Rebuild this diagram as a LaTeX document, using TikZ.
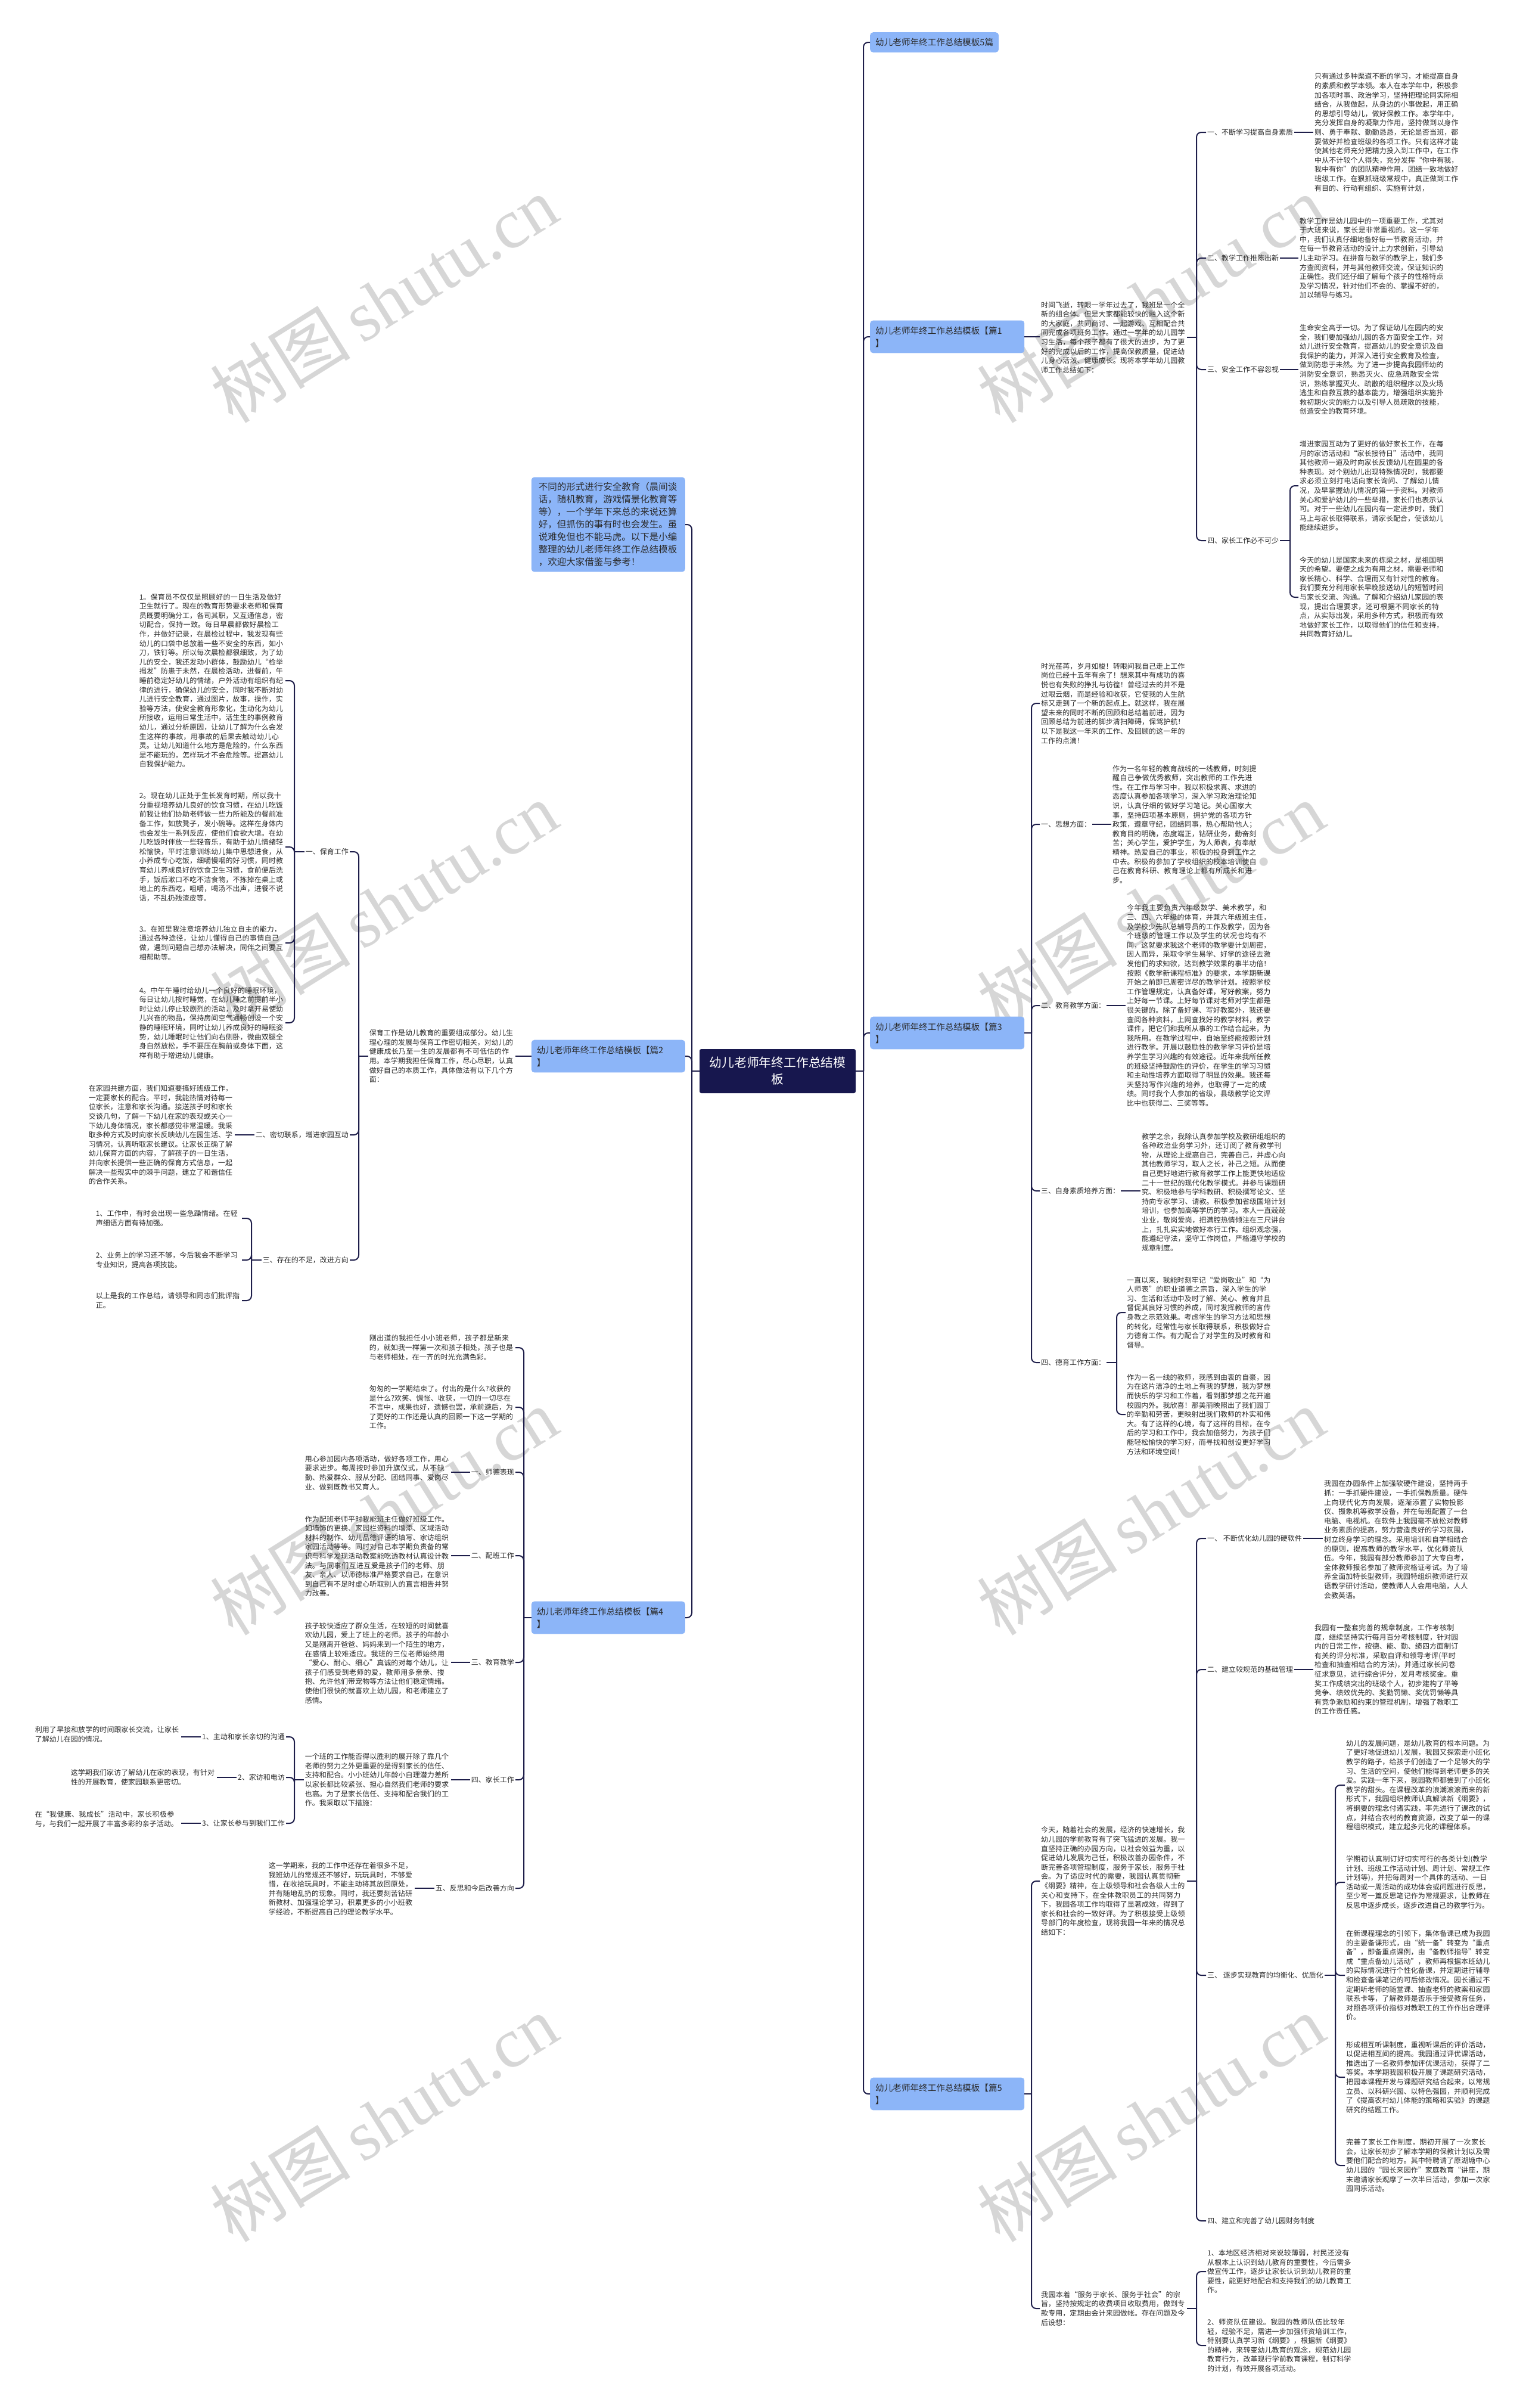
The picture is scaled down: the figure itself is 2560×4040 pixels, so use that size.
\documentclass[tikz,border=0pt]{standalone}
\usepackage{fontspec}
\setmainfont{Noto Sans CJK SC}
\newfontfamily\wmserif{Liberation Serif}
\XeTeXlinebreaklocale "zh"
\XeTeXlinebreakskip=0pt plus 1pt
\definecolor{boxblue}{HTML}{8CB5F8}
\definecolor{navy}{HTML}{17174E}
\definecolor{linec}{HTML}{1E1E4A}
\definecolor{txt}{HTML}{2A2A2A}
\definecolor{wm}{HTML}{D6D6D6}
\tikzset{
 conn/.style={draw=linec, line width=2pt},
 leaf/.style={text width=243pt, align=left, inner sep=2pt, text=txt, font=\fontsize{12}{15.6}\selectfont},
 lab/.style={inner sep=2pt, text=txt, font=\fontsize{12}{15.6}\selectfont},
 brbox/.style={fill=boxblue, rounded corners=5pt, inner xsep=9pt, inner ysep=10pt, text=txt, font=\fontsize{14.6}{21}\selectfont, align=left},
 wmark/.style={text=wm, rotate=32, font=\fontsize{118}{118}\selectfont}
}
\newcommand\lkR[3]{\draw[conn] (#1.east) -- (#1.east -| #3);\draw[conn,rounded corners=8pt] (#1.east -| #3) |- (#2.west);}
\newcommand\lkL[3]{\draw[conn] (#1.west) -- (#1.west -| #3);\draw[conn,rounded corners=8pt] (#1.west -| #3) |- (#2.east);}
\newcommand\lkSR[2]{\draw[conn] (#1.east) -- (#1.east -| #2.west);}
\newcommand\lkSL[2]{\draw[conn] (#1.west) -- (#1.west -| #2.east);}
\begin{document}
\begin{tikzpicture}[x=1pt,y=-1pt]
\useasboundingbox[fill=white] (0,0) rectangle (2560,4040);
% watermarks
\foreach \wx in {644,1931}{
 \foreach \wy in {502,1519,2536,3554}{
  \node[wmark] at (\wx,\wy) {树图\,{\wmserif shutu.cn}};
 }
}
% bar coordinates
\coordinate (bR) at (1449,0);
\coordinate (bL) at (1161,0);
\coordinate (b1) at (2008,0);
\coordinate (b1d) at (2165,0);
\coordinate (b3) at (1731,0);
\coordinate (b3d) at (1874,0);
\coordinate (b5) at (1731,0);
\coordinate (b5i) at (2008,0);
\coordinate (b5c) at (2241,0);
\coordinate (b2) at (602,0);
\coordinate (b2a) at (494,0);
\coordinate (b2c) at (422,0);
\coordinate (b4) at (879,0);
\coordinate (b4d) at (494,0);

% central
\node[fill=navy, text=white, rounded corners=3pt, minimum width=262pt, minimum height=74pt, align=center, font=\fontsize{20.8}{28}\selectfont] (C) at (1305,1797) {幼儿老师年终工作总结模\\板};

% ===== right side =====
\node[brbox, anchor=west] (R0) at (1460,71) {幼儿老师年终工作总结模板5篇};
\node[brbox, anchor=west, text width=241pt] (P1) at (1460,565) {幼儿老师年终工作总结模板【篇1\\】};
\node[brbox, anchor=west, text width=241pt] (P3) at (1460,1733) {幼儿老师年终工作总结模板【篇3\\】};
\node[brbox, anchor=west, text width=241pt] (P5) at (1460,3513) {幼儿老师年终工作总结模板【篇5\\】};

% P1
\node[leaf, anchor=west] (P1i) at (1745,566) {时间飞逝，转眼一学年过去了，我班是一个全新的组合体。但是大家都能较快的融入这个新的大家庭，共同商讨、一起游戏、互相配合共同完成各项班务工作。通过一学年的幼儿园学习生活，每个孩子都有了很大的进步，为了更好的完成以后的工作，提高保教质量，促进幼儿身心活泼、健康成长。现将本学年幼儿园教师工作总结如下：};
\node[lab, anchor=west] (P1a) at (2024,222) {一、不断学习提高自身素质};
\node[lab, anchor=west] (P1b) at (2024,433) {二、教学工作推陈出新};
\node[lab, anchor=west] (P1c) at (2024,620) {三、安全工作不容忽视};
\node[lab, anchor=west] (P1d) at (2024,907) {四、家长工作必不可少};
\node[leaf, anchor=west] (P1aL) at (2204,222) {只有通过多种渠道不断的学习，才能提高自身的素质和教学本领。本人在本学年中，积极参加各项时事、政治学习，坚持把理论同实际相结合，从我做起，从身边的小事做起，用正确的思想引导幼儿，做好保教工作。本学年中，充分发挥自身的凝聚力作用，坚持做到以身作则、勇于奉献、勤勤恳恳，无论是否当班，都要做好并检查班级的各项工作。只有这样才能使其他老师充分把精力投入到工作中，在工作中从不计较个人得失，充分发挥“你中有我，我中有你”的团队精神作用，团结一致地做好班级工作。在狠抓班级常规中，真正做到工作有目的、行动有组织、实施有计划，};
\node[leaf, anchor=west] (P1bL) at (2179,433) {教学工作是幼儿园中的一项重要工作，尤其对于大班来说，家长是非常重视的。这一学年中，我们认真仔细地备好每一节教育活动，并在每一节教育活动的设计上力求创新，引导幼儿主动学习。在拼音与数学的教学上，我们多方查阅资料，并与其他教师交流，保证知识的正确性。我们还仔细了解每个孩子的性格特点及学习情况，针对他们不会的、掌握不好的，加以辅导与练习。};
\node[leaf, anchor=west] (P1cL) at (2179,620) {生命安全高于一切。为了保证幼儿在园内的安全，我们要加强幼儿园的各方面安全工作，对幼儿进行安全教育，提高幼儿的安全意识及自我保护的能力，并深入进行安全教育及检查，做到防患于未然。为了进一步提高我园师幼的消防安全意识，熟悉灭火、应急疏散安全常识，熟练掌握灭火、疏散的组织程序以及火场逃生和自救互救的基本能力，增强组织实施扑救初期火灾的能力以及引导人员疏散的技能，创造安全的教育环境。};
\node[leaf, anchor=west] (P1dL1) at (2179,815) {增进家园互动为了更好的做好家长工作，在每月的家访活动和“家长接待日”活动中，我同其他教师一道及时向家长反馈幼儿在园里的各种表现。对个别幼儿出现特殊情况时，我都要求必须立刻打电话向家长询问、了解幼儿情况，及早掌握幼儿情况的第一手资料。对教师关心和爱护幼儿的一些举措，家长们也表示认可。对于一些幼儿在园内有一定进步时，我们马上与家长取得联系，请家长配合，使该幼儿能继续进步。};
\node[leaf, anchor=west] (P1dL2) at (2179,1002) {今天的幼儿是国家未来的栋梁之材，是祖国明天的希望。要使之成为有用之材，需要老师和家长精心、科学、合理而又有针对性的教育。我们要充分利用家长早晚接送幼儿的短暂时间与家长交流、沟通。了解和介绍幼儿家园的表现，提出合理要求，还可根据不同家长的特点，从实际出发，采用多种方式，积极而有效地做好家长工作，以取得他们的信任和支持，共同教育好幼儿。};

% P3
\node[leaf, anchor=west] (P3i) at (1745,1180) {时光荏苒，岁月如梭！转眼间我自己走上工作岗位已经十五年有余了！想来其中有成功的喜悦也有失败的挣扎与彷徨！曾经过去的并不是过眼云烟，而是经验和收获，它使我的人生航标又走到了一个新的起点上。就这样，我在展望未来的同时不断的回顾和总结着前进，因为回顾总结为前进的脚步清扫障碍，保驾护航！以下是我这一年来的工作、及回顾的这一年的工作的点滴！};
\node[lab, anchor=west] (P3a) at (1745,1383) {一、思想方面：};
\node[lab, anchor=west] (P3b) at (1745,1687) {二、教育教学方面：};
\node[lab, anchor=west] (P3c) at (1745,1998) {三、自身素质培养方面：};
\node[lab, anchor=west] (P3d) at (1745,2286) {四、德育工作方面：};
\node[leaf, anchor=west] (P3aL) at (1865,1383) {作为一名年轻的教育战线的一线教师，时刻提醒自己争做优秀教师，突出教师的工作先进性。在工作与学习中，我以积极求真、求进的态度认真参加各项学习，深入学习政治理论知识，认真仔细的做好学习笔记。关心国家大事，坚持四项基本原则，拥护党的各项方针政策，遵章守纪，团结同事，热心帮助他人；教育目的明确，态度端正，钻研业务，勤奋刻苦；关心学生，爱护学生，为人师表，有奉献精神。热爱自己的事业，积极的投身到工作之中去。积极的参加了学校组织的校本培训使自己在教育科研、教育理论上都有所成长和进步。};
\node[leaf, anchor=west] (P3bL) at (1889,1687) {今年我主要负责六年级数学、美术教学，和三、四、六年级的体育，并兼六年级班主任，及学校少先队总辅导员的工作及教学，因为各个班级的管理工作以及学生的状况也均有不同，这就要求我这个老师的教学要计划周密，因人而异，采取令学生易学、好学的途径去激发他们的求知欲，达到教学效果的事半功倍！按照《数学新课程标准》的要求，本学期新课开始之前即已周密详尽的教学计划。按照学校工作管理规定，认真备好课，写好教案，努力上好每一节课。上好每节课对老师对学生都是很关键的。除了备好课、写好教案外，我还要查阅各种资料，上网查找好的教学材料，教学课件，把它们和我所从事的工作结合起来，为我所用。在教学过程中，自始至终能按照计划进行教学。开展以鼓励性的数学学习评价是培养学生学习兴趣的有效途径。近年来我所任教的班级坚持鼓励性的评价，在学生的学习习惯和主动性培养方面取得了明显的效果。我还每天坚持写作兴趣的培养，也取得了一定的成绩。同时我个人参加的省级，县级教学论文评比中也获得二、三奖等等。};
\node[leaf, anchor=west] (P3cL) at (1914,2000) {教学之余，我除认真参加学校及教研组组织的各种政治业务学习外，还订阅了教育教学刊物，从理论上提高自己，完善自己，并虚心向其他教师学习，取人之长，补己之短。从而使自己更好地进行教育教学工作上能更快地适应二十一世纪的现代化教学模式。并参与课题研究、积极地参与学科教研、积极撰写论文、坚持向专家学习、请教。积极参加省级国培计划培训，也参加高等学历的学习。本人一直兢兢业业，敬岗爱岗，把满腔热情倾注在三尺讲台上，扎扎实实地做好本行工作。组织观念强，能遵纪守法，坚守工作岗位，严格遵守学校的规章制度。};
\node[leaf, anchor=west] (P3dL1) at (1889,2202) {一直以来，我能时刻牢记“爱岗敬业”和“为人师表”的职业道德之宗旨，深入学生的学习、生活和活动中及时了解、关心、教育并且督促其良好习惯的养成，同时发挥教师的言传身教之示范效果。考虑学生的学习方法和思想的转化，经常性与家长取得联系，积极做好合力德育工作。有力配合了对学生的及时教育和督导。};
\node[leaf, anchor=west] (P3dL2) at (1889,2373) {作为一名一线的教师，我感到由衷的自豪，因为在这片洁净的土地上有我的梦想，我为梦想而快乐的学习和工作着，看到那梦想之花开遍校园内外。我欣喜！那美丽映照出了我们园丁的辛勤和劳苦，更映射出我们教师的朴实和伟大。有了这样的心境，有了这样的目标，在今后的学习和工作中，我会加倍努力，为孩子们能轻松愉快的学习好，而寻找和创设更好学习方法和环境空间！};

% P5
\node[leaf, anchor=west] (P5i) at (1745,3156) {今天，随着社会的发展，经济的快速增长，我幼儿园的学前教育有了突飞猛进的发展。我一直坚持正确的办园方向，以社会效益为重，以促进幼儿发展为己任，积极改善办园条件，不断完善各项管理制度，服务于家长，服务于社会。为了适应时代的需要，我园认真贯彻新《纲要》精神，在上级领导和社会各级人士的关心和支持下，在全体教职员工的共同努力下，我园各项工作均取得了显著成效，得到了家长和社会的一致好评。为了积极接受上级领导部门的年度检查，现将我园一年来的情况总结如下：};
\node[leaf, anchor=west] (P5s) at (1745,3873) {我园本着“服务于家长、服务于社会”的宗旨，坚持按规定的收费项目收取费用，做到专款专用，定期由会计来园做帐。存在问题及今后设想：};
\node[lab, anchor=west] (P5a) at (2024,2581) {一、 不断优化幼儿园的硬软件};
\node[lab, anchor=west] (P5b) at (2024,2801) {二、建立较规范的基础管理};
\node[lab, anchor=west] (P5c) at (2024,3314) {三、 逐步实现教育的均衡化、优质化};
\node[lab, anchor=west] (P5d) at (2024,3726) {四、建立和完善了幼儿园财务制度};
\node[leaf, anchor=west] (P5aL) at (2220,2583) {我园在办园条件上加强软硬件建设，坚持两手抓：一手抓硬件建设，一手抓保教质量。硬件上向现代化方向发展，逐渐添置了实物投影仪、摄象机等教学设备，并在每班配置了一台电脑、电视机。在软件上我园毫不放松对教师业务素质的提高，努力营造良好的学习氛围，树立终身学习的理念。采用培训和自学相结合的原则，提高教师的教学水平，优化师资队伍。今年，我园有部分教师参加了大专自考，全体教师报名参加了教师资格证考试。为了培养全面加特长型教师，我园特组织教师进行双语教学研讨活动，使教师人人会用电脑，人人会教英语。};
\node[leaf, anchor=west] (P5bL) at (2204,2801) {我园有一整套完善的规章制度，工作考核制度，继续坚持实行每月百分考核制度，针对园内的日常工作，按德、能、勤、绩四方面制订有关的评分标准，采取自评和领导考评(平时检查和抽查相结合的方法)，并通过家长问卷征求意见，进行综合评分，发月考核奖金。重奖工作成绩突出的班级个人，初步建构了平等竞争、绩效优先的、奖勤罚懒、奖优罚懒等具有竞争激励和约束的管理机制，增强了教职工的工作责任感。};
\node[leaf, anchor=west] (P5c1) at (2257,2995) {幼儿的发展问题，是幼儿教育的根本问题。为了更好地促进幼儿发展，我园又探索走小班化教学的路子，给孩子们创造了一个足够大的学习、生活的空间，使他们能得到老师更多的关爱。实践一年下来，我园教师都尝到了小班化教学的甜头。在课程改革的浪潮滚滚而来的新形式下，我园组织教师认真解读新《纲要》，将纲要的理念付诸实践，率先进行了课改的试点，并结合农村的教育资源，改变了单一的课程组织模式，建立起多元化的课程体系。};
\node[leaf, anchor=west] (P5c2) at (2257,3158) {学期初认真制订好切实可行的各类计划(教学计划、班级工作活动计划、周计划、常规工作计划等)，并把每周对一个具体的活动、一日活动或一周活动的成功体会或问题进行反思，至少写一篇反思笔记作为常规要求，让教师在反思中逐步成长，逐步改进自己的教学行为。};
\node[leaf, anchor=west] (P5c3) at (2257,3314) {在新课程理念的引领下，集体备课已成为我园的主要备课形式，由“统一备”转变为“重点备”，即备重点课例，由“备教师指导”转变成“重点备幼儿活动”，教师再根据本班幼儿的实际情况进行个性化备课，并定期进行辅导和检查备课笔记的可后修改情况。园长通过不定期听老师的随堂课、抽查老师的教案和家园联系卡等，了解教师是否乐于接受教育任务，对照各项评价指标对教职工的工作作出合理评价。};
\node[leaf, anchor=west] (P5c4) at (2257,3485) {形成相互听课制度，重视听课后的评价活动，以促进相互间的提高。我园通过评优课活动，推选出了一名教师参加评优课活动，获得了二等奖。本学期我园积极开展了课题研究活动，把园本课程开发与课题研究结合起来，以常规立员、以科研兴园、以特色强园，并顺利完成了《提高农村幼儿体能的策略和实验》的课题研究的结题工作。};
\node[leaf, anchor=west] (P5c5) at (2257,3633) {完善了家长工作制度，期初开展了一次家长会，让家长初步了解本学期的保教计划以及需要他们配合的地方。其中特聘请了原湖塘中心幼儿园的“园长来园作”家庭教育“讲座，期末邀请家长观摩了一次半日活动，参加一次家园同乐活动。};
\node[leaf, anchor=west] (P5s1) at (2024,3811) {1、本地区经济相对来说较薄弱，村民还没有从根本上认识到幼儿教育的重要性，今后需多做宣传工作，逐步让家长认识到幼儿教育的重要性，能更好地配合和支持我们的幼儿教育工作。};
\node[leaf, anchor=west] (P5s2) at (2024,3935) {2、师资队伍建设。我园的教师队伍比较年轻，经验不足，需进一步加强师资培训工作，特别要认真学习新《纲要》，根据新《纲要》的精神，来转变幼儿教育的观念，规范幼儿园教育行为，改革现行学前教育课程，制订科学的计划，有效开展各项活动。};

% ===== left side =====
\node[brbox, anchor=east, text width=234pt, inner xsep=12pt, inner ysep=9pt, font=\fontsize{15.5}{21}\selectfont] (IN) at (1150,880) {不同的形式进行安全教育（晨间谈\\话，随机教育，游戏情景化教育等\\等），一个学年下来总的来说还算\\好，但抓伤的事有时也会发生。虽\\说难免但也不能马虎。以下是小编\\整理的幼儿老师年终工作总结模板\\，欢迎大家借鉴与参考！};
\node[brbox, anchor=east, text width=240pt] (P2) at (1150,1772) {幼儿老师年终工作总结模板【篇2\\】};
\node[brbox, anchor=east, text width=240pt] (P4) at (1150,2714) {幼儿老师年终工作总结模板【篇4\\】};

% P2
\node[leaf, anchor=east] (P2i) at (865,1772) {保育工作是幼儿教育的重要组成部分。幼儿生理心理的发展与保育工作密切相关，对幼儿的健康成长乃至一生的发展都有不可低估的作用。本学期我担任保育工作，尽心尽职，认真做好自己的本质工作，具体做法有以下几个方面：};
\node[lab, anchor=east] (P2a) at (587,1429) {一、保育工作};
\node[lab, anchor=east] (P2b) at (587,1904) {二、密切联系，增进家园互动};
\node[lab, anchor=east] (P2c) at (587,2114) {三、存在的不足，改进方向};
\node[leaf, anchor=east] (P2a1) at (479,1142) {1。保育员不仅仅是照顾好的一日生活及做好卫生就行了。现在的教育形势要求老师和保育员既要明确分工，各司其职，又互通信息，密切配合，保持一致。每日早晨都做好晨检工作，并做好记录，在晨检过程中，我发现有些幼儿的口袋中总放着一些不安全的东西，如小刀，铁钉等。所以每次晨检都很细致，为了幼儿的安全，我还发动小群体，鼓励幼儿“检举揭发”防患于未然，在晨检活动，进餐前，午睡前稳定好幼儿的情绪，户外活动有组织有纪律的进行，确保幼儿的安全，同时我不断对幼儿进行安全教育，通过图片，故事，操作，实验等方法，使安全教育形象化，生动化为幼儿所接收，运用日常生活中，活生生的事例教育幼儿，通过分析原因，让幼儿了解为什么会发生这样的事故，用事故的后果去触动幼儿心灵。让幼儿知道什么地方是危险的，什么东西是不能玩的，怎样玩才不会危险等。提高幼儿自我保护能力。};
\node[leaf, anchor=east] (P2a2) at (479,1421) {2。现在幼儿正处于生长发育时期，所以我十分重视培养幼儿良好的饮食习惯，在幼儿吃饭前我让他们协助老师做一些力所能及的餐前准备工作，如放凳子，发小碗等。这样在身体内也会发生一系列反应，使他们食欲大增。在幼儿吃饭时伴放一些轻音乐，有助于幼儿情绪轻松愉快，平时注意训练幼儿集中思想进食，从小养成专心吃饭，细嚼慢咽的好习惯，同时教育幼儿养成良好的饮食卫生习惯，食前便后洗手，饭后漱口不吃不洁食物，不拣掉在桌上或地上的东西吃，咀嚼，喝汤不出声，进餐不说话，不乱扔残渣皮等。};
\node[leaf, anchor=east] (P2a3) at (479,1582) {3。在班里我注意培养幼儿独立自主的能力，通过各种途径，让幼儿懂得自己的事情自己做，遇到问题自己想办法解决，同伴之间要互相帮助等。};
\node[leaf, anchor=east] (P2a4) at (479,1716) {4。中午午睡时给幼儿一个良好的睡眠环境，每日让幼儿按时睡觉，在幼儿睡之前提前半小时让幼儿停止较剧烈的活动，及时拿开易使幼儿兴奋的物品，保持房间空气通畅创设一个安静的睡眠环境，同时让幼儿养成良好的睡眠姿势，幼儿睡眠时让他们向右侧卧，微曲双腿全身自然放松，手不要压在胸前或身体下面，这样有助于增进幼儿健康。};
\node[leaf, anchor=east] (P2bL) at (394,1904) {在家园共建方面，我们知道要搞好班级工作，一定要家长的配合。平时，我能热情对待每一位家长，注意和家长沟通。接送孩子时和家长交谈几句，了解一下幼儿在家的表现或关心一下幼儿身体情况，家长都感觉非常温暖。我采取多种方式及时向家长反映幼儿在园生活、学习情况，认真听取家长建议。让家长正确了解幼儿保育方面的内容，了解孩子的一日生活，并向家长提供一些正确的保育方式信息，一起解决一些现实中的棘手问题，建立了和谐信任的合作关系。};
\node[leaf, anchor=east] (P2c1) at (406,2044) {1、工作中，有时会出现一些急躁情绪。在轻声细语方面有待加强。};
\node[leaf, anchor=east] (P2c2) at (406,2114) {2、业务上的学习还不够，今后我会不断学习专业知识，提高各项技能。};
\node[leaf, anchor=east] (P2c3) at (406,2182) {以上是我的工作总结，请领导和同志们批评指正。};

% P4
\node[leaf, anchor=east] (P4x) at (865,2261) {刚出道的我担任小小班老师，孩子都是新来的，就如我一样第一次和孩子相处，孩子也是与老师相处，在一齐的时光充满色彩。};
\node[leaf, anchor=east] (P4y) at (865,2361) {匆匆的一学期结束了。付出的是什么?收获的是什么?欢笑、惆怅、收获，一切的一切尽在不言中，成果也好，遗憾也罢，承前避后，为了更好的工作还是认真的回顾一下这一学期的工作。};
\node[lab, anchor=east] (P4a) at (865,2470) {一、师德表现};
\node[lab, anchor=east] (P4b) at (865,2610) {二、配班工作};
\node[lab, anchor=east] (P4c) at (865,2789) {三、教育教学};
\node[lab, anchor=east] (P4d) at (865,2986) {四、家长工作};
\node[lab, anchor=east] (P4e) at (865,3168) {五、反思和今后改善方向};
\node[leaf, anchor=east] (P4aL) at (757,2471) {用心参加园内各项活动，做好各项工作，用心要求进步。每周按时参加升旗仪式，从不缺勤、热爱群众、服从分配、团结同事、爱岗尽业、做到既教书又育人。};
\node[leaf, anchor=east] (P4bL) at (757,2611) {作为配班老师平时我能班主任做好班级工作。如墙饰的更换、家园栏资料的增添、区域活动材料的制作、幼儿品德评语的填写、家访组织家园活动等等。同时对自己本学期负责备的常识与科学发现活动教案能吃透教材认真设计教法。与同事们互进互爱是孩子们的老师、朋友、亲人、以师德标准严格要求自己，在意识到自己有不足时虚心听取别人的直言相告并努力改善。};
\node[leaf, anchor=east] (P4cL) at (757,2790) {孩子较快适应了群众生活，在较短的时间就喜欢幼儿园，爱上了班上的老师。孩子的年龄小又是刚离开爸爸、妈妈来到一个陌生的地方，在感情上较难适应。我班的三位老师始终用“爱心、耐心、细心”真诚的对每个幼儿，让孩子们感受到老师的爱，教师用多亲亲、搂抱、允许他们带宠物等方法让他们稳定情绪。使他们很快的就喜欢上幼儿园，和老师建立了感情。};
\node[leaf, anchor=east] (P4dL) at (757,2986) {一个班的工作能否得以胜利的展开除了靠几个老师的努力之外更重要的是得到家长的信任、支持和配合。小小班幼儿年龄小自理潜力差所以家长都比较紧张、担心自然我们老师的要求也高。为了是家长信任、支持和配合我们的工作。我采取以下措施：};
\node[leaf, anchor=east] (P4eL) at (696,3169) {这一学期来，我的工作中还存在着很多不足，我班幼儿的常规还不够好，玩玩具时，不够爱惜，在收拾玩具时，不能主动将其放回原处，并有随地乱扔的现象。同时，我还要刻苦钻研新教材、加强理论学习，积累更多的小小班教学经验，不断提高自己的理论教学水平。};
\node[lab, anchor=east] (P4d1) at (480,2914) {1、主动和家长亲切的沟通};
\node[lab, anchor=east] (P4d2) at (480,2982) {2、家访和电访};
\node[lab, anchor=east] (P4d3) at (480,3059) {3、让家长参与到我们工作};
\node[leaf, anchor=east] (P4d1L) at (304,2910) {利用了早接和放学的时间跟家长交流，让家长了解幼儿在园的情况。};
\node[leaf, anchor=east] (P4d2L) at (364,2982) {这学期我们家访了解幼儿在家的表现，有针对性的开展教育，使家园联系更密切。};
\node[leaf, anchor=east] (P4d3L) at (304,3052) {在“我健康、我成长”活动中，家长积极参与，与我们一起开展了丰富多彩的亲子活动。};

% ===== connectors =====
\lkR{C}{R0}{bR}\lkR{C}{P1}{bR}\lkR{C}{P3}{bR}\lkR{C}{P5}{bR}
\lkL{C}{IN}{bL}\lkL{C}{P2}{bL}\lkL{C}{P4}{bL}
% P1
\lkSR{P1}{P1i}
\lkR{P1i}{P1a}{b1}\lkR{P1i}{P1b}{b1}\lkR{P1i}{P1c}{b1}\lkR{P1i}{P1d}{b1}
\lkSR{P1a}{P1aL}\lkSR{P1b}{P1bL}\lkSR{P1c}{P1cL}
\lkR{P1d}{P1dL1}{b1d}\lkR{P1d}{P1dL2}{b1d}
% P3
\lkR{P3}{P3i}{b3}\lkR{P3}{P3a}{b3}\lkR{P3}{P3b}{b3}\lkR{P3}{P3c}{b3}\lkR{P3}{P3d}{b3}
\lkSR{P3a}{P3aL}\lkSR{P3b}{P3bL}\lkSR{P3c}{P3cL}
\lkR{P3d}{P3dL1}{b3d}\lkR{P3d}{P3dL2}{b3d}
% P5
\lkR{P5}{P5i}{b5}\lkR{P5}{P5s}{b5}
\lkR{P5i}{P5a}{b5i}\lkR{P5i}{P5b}{b5i}\lkR{P5i}{P5c}{b5i}\lkR{P5i}{P5d}{b5i}
\lkSR{P5a}{P5aL}\lkSR{P5b}{P5bL}
\lkR{P5c}{P5c1}{b5c}\lkR{P5c}{P5c2}{b5c}\lkR{P5c}{P5c3}{b5c}\lkR{P5c}{P5c4}{b5c}\lkR{P5c}{P5c5}{b5c}
\lkR{P5s}{P5s1}{b5i}\lkR{P5s}{P5s2}{b5i}
% P2
\lkSL{P2}{P2i}
\lkL{P2i}{P2a}{b2}\lkL{P2i}{P2b}{b2}\lkL{P2i}{P2c}{b2}
\lkL{P2a}{P2a1}{b2a}\lkL{P2a}{P2a2}{b2a}\lkL{P2a}{P2a3}{b2a}\lkL{P2a}{P2a4}{b2a}
\lkSL{P2b}{P2bL}
\lkL{P2c}{P2c1}{b2c}\lkL{P2c}{P2c2}{b2c}\lkL{P2c}{P2c3}{b2c}
% P4
\lkL{P4}{P4x}{b4}\lkL{P4}{P4y}{b4}\lkL{P4}{P4a}{b4}\lkL{P4}{P4b}{b4}\lkL{P4}{P4c}{b4}\lkL{P4}{P4d}{b4}\lkL{P4}{P4e}{b4}
\lkSL{P4a}{P4aL}\lkSL{P4b}{P4bL}\lkSL{P4c}{P4cL}\lkSL{P4d}{P4dL}\lkSL{P4e}{P4eL}
\lkL{P4dL}{P4d1}{b4d}\lkL{P4dL}{P4d2}{b4d}\lkL{P4dL}{P4d3}{b4d}
\lkSL{P4d1}{P4d1L}\lkSL{P4d2}{P4d2L}\lkSL{P4d3}{P4d3L}
\end{tikzpicture}
\end{document}
